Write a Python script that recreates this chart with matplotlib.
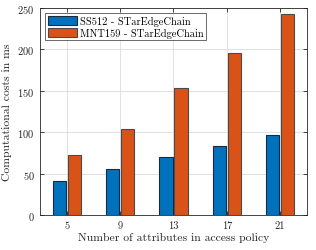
import numpy as np
import matplotlib
matplotlib.use("Agg")
import matplotlib.pyplot as plt

plt.rcParams["font.family"] = ["cmr10", "DejaVu Serif"]
plt.rcParams["axes.formatter.use_mathtext"] = True

attributes = ["5", "9", "13", "17", "21"]
ss512 = [41, 56, 70, 83, 97]
mnt159 = [72, 104, 154, 196, 243]
series_labels = ["SS512 - STarEdgeChain", "MNT159 - STarEdgeChain"]

fig = plt.figure(figsize=(3.16, 2.51), dpi=100)
ax = fig.add_axes([0.127, 0.139, 0.844, 0.825])

x = np.arange(1, len(attributes) + 1)
w = 0.25
ax.bar(x - 0.14, ss512, w, color="#0072BD", edgecolor="#1a2a3a",
       linewidth=0.8, label=series_labels[0], zorder=3)
ax.bar(x + 0.14, mnt159, w, color="#D95319", edgecolor="#4a4a4a",
       linewidth=0.8, label=series_labels[1], zorder=3)

ax.set_xlim(0.5, 5.5)
ax.set_ylim(0, 250)
ax.set_xticks(x)
ax.set_xticklabels(attributes)
ax.set_yticks(np.arange(0, 251, 50))
ax.grid(True, color="#dcdcdc", linewidth=0.6, zorder=0)
ax.tick_params(direction="in", top=True, right=True, labelsize=7.5,
               length=3, width=0.6, colors="#262626", pad=4)
for spine in ax.spines.values():
    spine.set_edgecolor("#262626")
    spine.set_linewidth(0.6)

ax.set_xlabel("Number of attributes in access policy", fontsize=8.4,
              color="#262626", labelpad=1)
ax.set_ylabel("Computational costs in ms", fontsize=8.4, color="#262626",
              labelpad=4)

leg = ax.legend(loc="upper left", fontsize=7.5, frameon=True, fancybox=False,
                handlelength=2.8, handleheight=1.0, borderpad=0.25,
                labelspacing=0.15, handletextpad=0.3, borderaxespad=0.5)
leg.get_frame().set_edgecolor("#262626")
leg.get_frame().set_linewidth(0.6)

fig.savefig("out.png", dpi=100)
